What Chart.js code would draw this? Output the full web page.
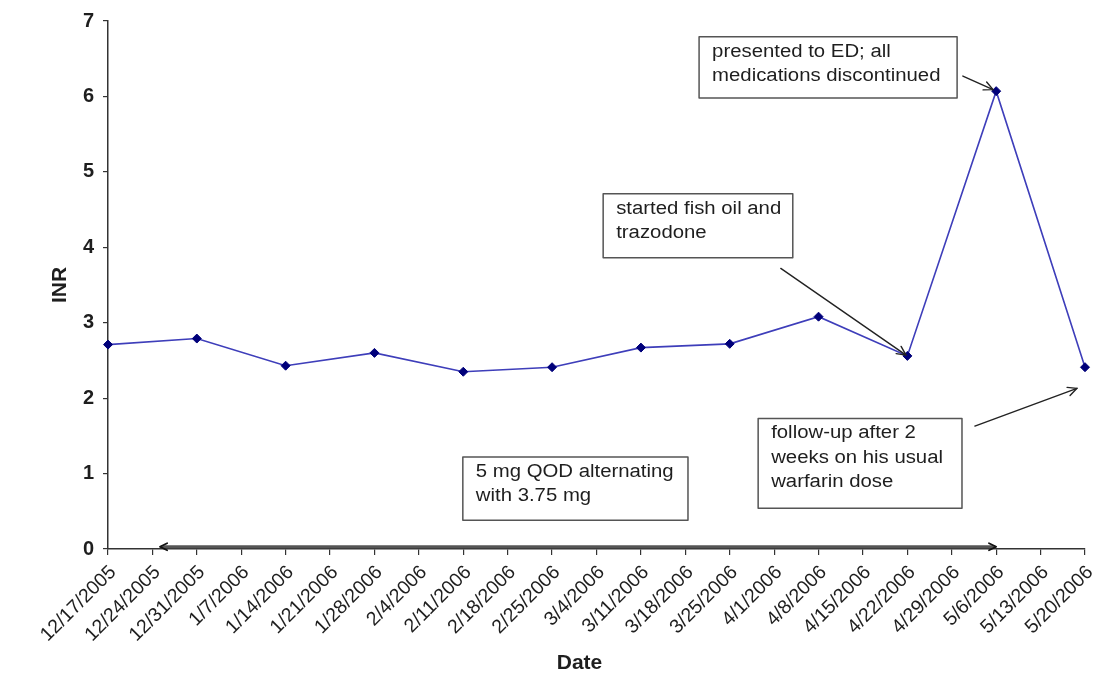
<!DOCTYPE html>
<html lang="en">
<head>
  <meta charset="UTF-8" />
  <title>INR over time</title>
  <script src="https://cdn.jsdelivr.net/npm/chart.js"></script>
  <style>
    body { margin: 0; background: #fff; }
    #wrap { width: 1100px; height: 676px; }
  </style>
</head>
<body>
  <div id="wrap"><canvas id="inrChart" width="1100" height="676"></canvas></div>

  <script>
    const dates = [
      '12/17/2005', '12/24/2005', '12/31/2005', '1/7/2006', '1/14/2006', '1/21/2006',
      '1/28/2006', '2/4/2006', '2/11/2006', '2/18/2006', '2/25/2006', '3/4/2006',
      '3/11/2006', '3/18/2006', '3/25/2006', '4/1/2006', '4/8/2006', '4/15/2006',
      '4/22/2006', '4/29/2006', '5/6/2006', '5/13/2006', '5/20/2006'
    ];
    // INR measured every two weeks, nothing in between
    const inr = [
      2.71, null, 2.79, null, 2.43, null,
      2.60, null, 2.35, null, 2.41, null,
      2.67, null, 2.72, null, 3.08, null,
      2.56, null, 6.07, null, 2.41
    ];
    const yTicks = [0, 1, 2, 3, 4, 5, 6, 7];

    // callout boxes, in axis units (x = category index, y = INR)
    const notes = [
      { lines: ['presented to ED; all', 'medications discontinued'], x1: 13.31, x2: 19.12, y1: 6.79, y2: 5.98 },
      { lines: ['started fish oil and', 'trazodone'], x1: 11.15, x2: 15.42, y1: 4.71, y2: 3.86 },
      { lines: ['follow-up after 2', 'weeks on his usual', 'warfarin dose'], x1: 14.64, x2: 19.23, y1: 1.73, y2: 0.54 },
      { lines: ['5 mg QOD alternating', 'with 3.75 mg'], x1: 7.99, x2: 13.06, y1: 1.22, y2: 0.38 }
    ];
    const arrows = [
      { from: [19.25, 6.27], to: [19.93, 6.09] },
      { from: [15.15, 3.72], to: [17.97, 2.57] },
      { from: [19.52, 1.63], to: [21.82, 2.13] }
    ];
    const doseSpan = { from: 1.17, to: 20.0, y: 0.03 };

    function drawHead(ctx, x1, y1, x2, y2, size) {
      const a = Math.atan2(y2 - y1, x2 - x1);
      ctx.beginPath();
      ctx.moveTo(x2 - size * Math.cos(a - 0.45), y2 - size * Math.sin(a - 0.45));
      ctx.lineTo(x2, y2);
      ctx.lineTo(x2 - size * Math.cos(a + 0.45), y2 - size * Math.sin(a + 0.45));
      ctx.stroke();
    }

    const notesPlugin = {
      id: 'notes',
      afterDatasetsDraw(chart) {
        const ctx = chart.ctx;
        const xs = chart.scales.x, ys = chart.scales.y;
        ctx.save();
        ctx.lineCap = 'round';
        ctx.lineJoin = 'round';

        // dose regimen span along the x axis
        const sx1 = xs.getPixelForValue(doseSpan.from);
        const sx2 = xs.getPixelForValue(doseSpan.to);
        const sy = ys.getPixelForValue(doseSpan.y);
        ctx.strokeStyle = '#555';
        ctx.lineWidth = 3;
        ctx.beginPath();
        ctx.moveTo(sx1 + 2, sy);
        ctx.lineTo(sx2 - 2, sy);
        ctx.stroke();
        ctx.strokeStyle = '#111';
        ctx.lineWidth = 1.8;
        drawHead(ctx, sx2 - 10, sy, sx2, sy, 8);
        drawHead(ctx, sx1 + 10, sy, sx1, sy, 8);

        // arrows
        ctx.strokeStyle = '#222';
        ctx.lineWidth = 1.4;
        arrows.forEach(a => {
          const x1 = xs.getPixelForValue(a.from[0]), y1 = ys.getPixelForValue(a.from[1]);
          const x2 = xs.getPixelForValue(a.to[0]), y2 = ys.getPixelForValue(a.to[1]);
          ctx.beginPath();
          ctx.moveTo(x1, y1);
          ctx.lineTo(x2, y2);
          ctx.stroke();
          drawHead(ctx, x1, y1, x2, y2, 10);
        });

        // boxes
        notes.forEach(n => {
          const left = xs.getPixelForValue(n.x1), right = xs.getPixelForValue(n.x2);
          const top = ys.getPixelForValue(n.y1), bottom = ys.getPixelForValue(n.y2);
          ctx.fillStyle = '#fff';
          ctx.fillRect(left, top, right - left, bottom - top);
          ctx.strokeStyle = '#555';
          ctx.lineWidth = 1.5;
          ctx.strokeRect(left, top, right - left, bottom - top);
          ctx.fillStyle = '#1e1e1e';
          ctx.font = '18px "Liberation Sans", Arial, sans-serif';
          ctx.textBaseline = 'middle';
          n.lines.forEach((line, i) => {
            ctx.save();
            ctx.translate(left + 13, top + 15 + i * 24.5);
            ctx.scale(1.13, 1);
            ctx.fillText(line, 0, 0);
            ctx.restore();
          });
        });

        // x axis title, sits a little left of the plot centre in the original
        ctx.fillStyle = '#1e1e1e';
        ctx.font = 'bold 21px "Liberation Sans", Arial, sans-serif';
        ctx.textAlign = 'center';
        ctx.textBaseline = 'middle';
        ctx.fillText('Date', (chart.chartArea.left + chart.chartArea.right) / 2 - 17, 663);
        ctx.restore();
      }
    };

    const ctx = document.getElementById('inrChart').getContext('2d');
    new Chart(ctx, {
      type: 'line',
      data: {
        labels: dates,
        datasets: [{
          label: 'INR',
          data: inr,
          spanGaps: true,
          borderColor: '#3e3eba',
          borderWidth: 1.6,
          pointStyle: 'rectRot',
          pointRadius: 4.5,
          pointBackgroundColor: '#00007a',
          pointBorderColor: '#00007a',
          pointBorderWidth: 1,
          tension: 0,
          fill: false
        }]
      },
      options: {
        responsive: false,
        animation: false,
        layout: { padding: { left: 44, right: 15, top: 20, bottom: 0 } },
        plugins: {
          legend: { display: false },
          tooltip: { enabled: false }
        },
        scales: {
          x: {
            offset: false,
            afterFit(scale) {
              scale.height = 127;
              scale.paddingLeft = 0;
              scale.paddingRight = 0;
            },
            grid: { drawOnChartArea: false, drawTicks: true, tickLength: 6, color: '#333', lineWidth: 1.2 },
            border: { display: true, color: '#333', width: 1.5 },
            ticks: {
              autoSkip: false,
              maxRotation: 45,
              minRotation: 45,
              padding: 6,
              labelOffset: 5,
              color: '#1e1e1e',
              font: { family: '"Liberation Sans", Arial, sans-serif', size: 19.5 }
            },
            title: { display: false }
          },
          y: {
            min: 0,
            max: 7,
            afterFit(scale) { scale.width = 64; },
            afterBuildTicks(scale) { scale.ticks = yTicks.map(v => ({ value: v })); },
            grid: { drawOnChartArea: false, drawTicks: true, tickLength: 5, color: '#333', lineWidth: 1.2 },
            border: { display: true, color: '#333', width: 1.5 },
            ticks: {
              padding: 9,
              color: '#1e1e1e',
              font: { family: '"Liberation Sans", Arial, sans-serif', size: 20, weight: 'bold' }
            },
            title: {
              display: true,
              text: 'INR',
              color: '#1e1e1e',
              padding: { top: 4, bottom: 4 },
              font: { family: '"Liberation Sans", Arial, sans-serif', size: 21, weight: 'bold' }
            }
          }
        }
      },
      plugins: [notesPlugin]
    });
  </script>
</body>
</html>
